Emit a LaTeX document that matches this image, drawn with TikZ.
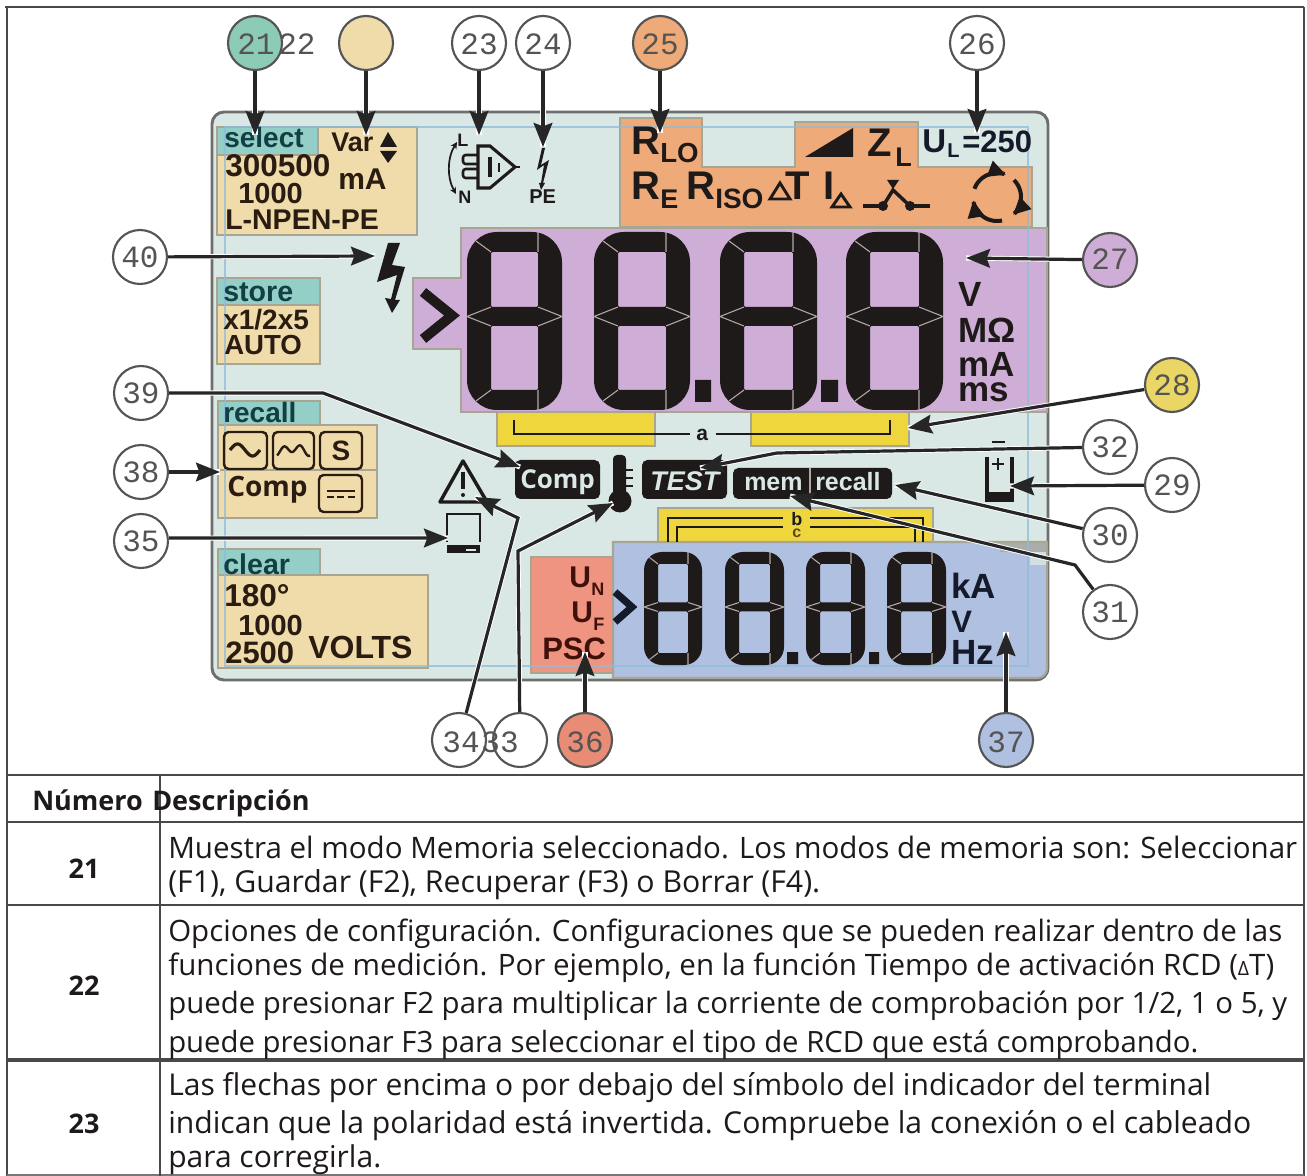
\documentclass[tikz,border=0pt]{standalone}
\usepackage{fontspec}
\usepackage{graphicx}
\setmainfont{Liberation Sans}
\newfontfamily\tablefont{Open Sans}
\newfontfamily\numfont{Liberation Mono}
\usetikzlibrary{arrows.meta}
\definecolor{lcdbody}{HTML}{D9E7E5}
\definecolor{lcdedge}{HTML}{6E6E6E}
\definecolor{zoneedge}{HTML}{A9A593}
\definecolor{teal}{HTML}{93CFC6}
\definecolor{ring21}{HTML}{8CCBB5}
\definecolor{ring28}{HTML}{EAD665}
\definecolor{ring36}{HTML}{E98C76}
\definecolor{tan}{HTML}{F0DCAA}
\definecolor{orangez}{HTML}{EEAA78}
\definecolor{purplez}{HTML}{CEAED6}
\definecolor{yellowz}{HTML}{EFD63C}
\definecolor{bluez}{HTML}{B0C0E0}
\definecolor{redz}{HTML}{EE9480}
\definecolor{ink}{HTML}{1E1A1A}
\definecolor{brownink}{HTML}{2A1C10}
\definecolor{tealink}{HTML}{123F44}
\definecolor{maroon}{HTML}{40100A}
\definecolor{navy}{HTML}{141A2A}
\definecolor{guideblue}{HTML}{8FBCD8}
\definecolor{segline}{HTML}{B5A8A8}
\definecolor{ringc}{HTML}{555555}
\definecolor{arrowc}{HTML}{262626}
\newcommand\pxfont[1]{\fontsize{\fpeval{#1*0.75}pt}{\fpeval{#1*0.9}pt}\selectfont}
% \tx[colour]{name}{x}{y}{px size}{text}
\newcommand\tx[6][ink]{\node[anchor=base west,inner sep=0pt,text=#1,font=\bfseries\pxfont{#5}] (#2) at (#3,#4) {#6};}
\newcommand\tbl[5]{\node[anchor=base west,inner sep=0pt,text=ink] (#1) at (#2,#3) {\resizebox{\fpeval{#4*0.75}pt}{!}{\tablefont\pxfont{27}#5}};}
\newcommand\tnum[3]{\node[anchor=base,inner sep=0pt,text=ink,font=\tablefont\bfseries\pxfont{27}] (#1) at (#2,#3) {#1};}
% \segdigit{x0}{x1}{y0}{y1}{tx}{ty}{ymid}{th}{r}
\newcommand\segdigit[9]{%
 \fill[ink,even odd rule] [rounded corners=#9*0.75pt] (#1,#3) rectangle (#2,#4)
   [rounded corners=1pt] ({#1+#5},{#3+#6}) rectangle ({#2-#5},{#7-#8/2})
   ({#1+#5},{#7+#8/2}) rectangle ({#2-#5},{#4-#6});
 \draw[segline,line width=0.8pt]
   ({#1+0.3*#9},{#3+0.3*#9}) -- ({#1+#5},{#3+#6})
   ({#2-#5},#3) -- ({#2-#5},{#3+#6})
   ({#1+0.3*#9},{#4-0.3*#9}) -- ({#1+#5},{#4-#6})
   ({#2-#5},#4) -- ({#2-#5},{#4-#6})
   ({#1+#5},{#7-#8/2}) -- (#1,#7) -- ({#1+#5},{#7+#8/2})
   ({#2-#5},{#7-#8/2}) -- (#2,#7) -- ({#2-#5},{#7+#8/2});
}
\tikzset{
 zone/.style={draw=zoneedge,line width=1.6pt},
 ring/.style={circle,draw=ringc,line width=1.6pt,minimum size=40.5pt,inner sep=0pt,fill=white},
 ringtext/.style={anchor=base,inner sep=0pt,text=ink!75,font=\numfont\pxfont{31}},
 arr/.style={draw=arrowc,line width=2.4pt,-{Stealth[length=18pt,width=14pt,inset=2.5pt]},
   preaction={draw=white,line width=3.8pt,arrows=-}},
 keybox/.style={draw=brownink,line width=1.8pt,rounded corners=3.5pt},
 tableline/.style={draw=ink!80,line width=1.4pt},
 badge/.style={fill=ink,rounded corners=4pt},
 rotarrow/.style={draw=ink,line width=3pt,-{Stealth[length=13pt,width=12pt,inset=0pt]},samples=20,smooth}
}
\begin{document}
\begin{tikzpicture}[x=0.75pt,y=-0.75pt]
\useasboundingbox (0,0) rectangle (1307,1176);
\fill[white] (0,0) rectangle (1307,1176);
% LCD body
\draw[fill=lcdbody,draw=lcdedge,line width=2.2pt,rounded corners=9pt] (212,112) rectangle (1048,680);
% left zones
\draw[zone,fill=tan] (217,127) rectangle (417,235);
\draw[zone,fill=teal] (217,127) rectangle (318,155);
\draw[zone,fill=tan] (217,305) rectangle (320,364);
\draw[zone,fill=teal] (217,278) rectangle (320,305);
\draw[zone,fill=tan] (218,425) rectangle (377,518);
\draw[zone,line width=0.8pt] (218,470) -- (377,470);
\draw[zone,fill=teal] (218,401) rectangle (320,425);
\draw[zone,fill=tan] (218,575) rectangle (428,668);
\draw[zone,fill=teal] (218,549) rectangle (320,575);
% orange zone
\draw[zone,fill=orangez] (620,118) -- (702,118) -- (702,167) -- (795,167) -- (795,122) -- (918,122) -- (918,167) -- (1032,167) -- (1032,227) -- (620,227) -- cycle;
% purple zone
\draw[zone,fill=purplez] (461,228) -- (1047,228) -- (1047,412) -- (461,412) -- (461,349) -- (413,349) -- (413,278) -- (461,278) -- cycle;
% yellow zones
\draw[zone,fill=yellowz] (497,412) rectangle (655,446);
\draw[zone,fill=yellowz] (751,412) rectangle (909,446);
\draw[zone,fill=yellowz] (658,508) rectangle (933,548);
% red and blue zones
\draw[zone,fill=redz] (531,557) rectangle (615,673);
\draw[zone,fill=bluez] (613,677) -- (613,542) -- (1047,542) [rounded corners=7pt] -- (1047,678) [sharp corners] -- (613,678) -- cycle;
\fill[zoneedge!70!bluez] (1000,543) rectangle (1046,552);
\fill[lcdbody!80!bluez] (1030,552) rectangle (1046,565);
% guide lines
\draw[guideblue,line width=1.1pt,opacity=0.75] (225,127) rectangle (1028,666);
% bracket a
\draw[ink,line width=1.8pt] (514,420) -- (514,434) -- (690,434);
\draw[ink,line width=1.8pt] (716,434) -- (890,434) -- (890,420);
\tx{la}{696}{441}{21}{a}
% brackets b, c
\draw[ink,line width=1.6pt] (668,542) -- (668,518) -- (783,518);
\draw[ink,line width=1.6pt] (677,542) -- (677,527) -- (783,527);
\draw[ink,line width=1.6pt] (810,518) -- (923,518) -- (923,542);
\draw[ink,line width=1.6pt] (810,527) -- (915,527) -- (915,542);
\tx{lb}{791}{526}{18}{b}
\tx[brownink!75!yellowz]{lc}{792}{538}{16}{c}
% upper left texts
\tx[tealink]{tselect}{224}{148}{28}{select}
\tx[brownink]{t300}{225}{177}{31.5}{300500}
\tx[brownink]{t1000a}{238}{204}{29}{1000}
\tx[brownink]{tlnpen}{225}{230}{28.5}{L-NPEN-PE}
\tx[brownink]{tvar}{331}{152}{27}{Var}
\tx[brownink]{tma}{338}{190}{30}{mA}
\fill[ink] (388,132) -- (397,147) -- (380,147) -- cycle;
\fill[ink] (388,163) -- (397,151) -- (380,151) -- cycle;
% store
\tx[tealink]{tstore}{223}{302}{28.6}{store}
\tx[brownink]{tx}{223}{330}{28}{x1/2x5}
\tx[brownink]{tauto}{224}{355}{27.6}{AUTO}
% recall
\tx[tealink]{trecall}{223}{423}{28}{recall}
\draw[keybox] (224,432) rectangle (267,469);
\draw[keybox] (273,432) rectangle (314,469);
\draw[keybox] (320,432) rectangle (362,469);
\draw[keybox] (319,475) rectangle (362,512);
\draw[brownink,line width=2.4pt,smooth,samples=30,domain=0:360] plot ({230+\x/360*30},{450-6*sin(\x)});
\draw[brownink,line width=1.8pt,smooth,samples=40,domain=0:360] plot ({277+\x/360*33},{451-4*sin(\x*2-60)+2*cos(\x)-1});
\node[anchor=base,inner sep=0pt,text=brownink,font=\bfseries\pxfont{28}] (ts) at (341,461) {S};
\node[anchor=base west,inner sep=0pt,text=brownink,font=\tablefont\bfseries\pxfont{28}] (tcomp) at (227,497) {Comp};
\draw[brownink,line width=1.8pt] (327,491) -- (355,491);
\draw[brownink,line width=1.8pt] (327,497) -- (334,497) (337,497) -- (344,497) (348,497) -- (355,497);
% clear
\tx[tealink]{tclear}{223}{575}{28.6}{clear}
\tx[brownink]{t180}{224}{607}{31.6}{180°}
\tx[brownink]{t1000b}{238}{635}{29}{1000}
\tx[brownink]{t2500}{225}{663}{31}{2500}
\tx[brownink]{tvolts}{308}{658}{32}{VOLTS}
% plug symbol
\tx{tplugl}{457}{147}{18}{L}
\tx{tplugn}{458}{204}{18}{N}
\tx{tpe}{529}{204}{20}{PE}
\draw[ink,line width=2.3pt] (478,146) -- (490,146) -- (515,167) -- (490,188) -- (478,188) -- cycle;
\draw[ink,line width=1.8pt] (515,167) -- (520,167);
\draw[ink,line width=1.9pt,rounded corners=2pt] (478,155) -- (463,155) -- (463,164) -- (478,164);
\draw[ink,line width=1.9pt,rounded corners=2pt] (478,169) -- (463,169) -- (463,178) -- (478,178);
\draw[ink,line width=2.4pt] (490,157) -- (490,177);
\draw[ink,line width=1.6pt] (499,163) -- (499,172);
\draw[ink,line width=1.3pt,{Stealth[length=5pt,width=5pt]}-{Stealth[length=5pt,width=5pt]}] (457,142) .. controls (447,158) and (447,178) .. (456,194);
\fill[ink] (542,148) -- (537,170) -- (544,165) -- (541,183) -- (539,183) -- (541,190) -- (545,183) -- (543,183) -- (549,160) -- (541,165) -- (545,148) -- cycle;
% orange zone labels
\tx{trlo}{631}{155}{40}{R}
\tx{trlos}{660}{163}{27.6}{LO}
\tx{tre}{631}{200}{40}{R}
\tx{tres}{660}{209}{27}{E}
\tx{triso}{686}{200}{40}{R}
\tx{trisos}{715}{209}{28}{ISO}
\draw[ink,line width=2.2pt] (770,199) -- (780,183) -- (790,199) -- cycle;
\tx{tdt}{785}{200}{40}{T}
\tx{tia}{823}{200}{40}{I}
\draw[ink,line width=2.2pt] (832,207) -- (841,194) -- (850,207) -- cycle;
\draw[ink,line width=2.4pt] (863,206) -- (883,206) (910,206) -- (930,206);
\fill[ink] (883,206) circle[radius=5] (910,206) circle[radius=5];
\draw[ink,line width=2.6pt] (883,206) -- (893,190) -- (910,206);
\fill[ink] (887,180) -- (899,180) -- (893,189) -- cycle;
\draw[rotarrow,domain=200:292] plot ({997+24*cos(\x)},{197+24*sin(\x)});
\draw[rotarrow,domain=-45:48] plot ({997+24*cos(\x)},{197+24*sin(\x)});
\draw[rotarrow,domain=78:172] plot ({997+24*cos(\x)},{197+24*sin(\x)});
\fill[ink] (805,157) -- (853,128) -- (853,157) -- cycle;
\tx{tz}{867}{157}{40}{Z}
\tx{tzs}{895}{167}{27}{L}
\tx[navy]{tu}{922}{153}{33}{U}
\tx[navy]{tus}{947}{158}{20}{L}
\tx[navy]{tul}{962}{153}{31}{=250}
% big bolt
\fill[ink] (388,243) -- (400,243) -- (392,265) -- (405,267) -- (395,300) -- (400,300) -- (392,313) -- (385,298) -- (391,299) -- (397,275) -- (377,282) -- cycle;
% main digits
\segdigit{467}{562}{232}{410}{24}{20}{316.5}{19}{30}
\segdigit{594}{690}{232}{410}{24}{20}{316.5}{19}{30}
\segdigit{720}{817}{232}{410}{24}{20}{316.5}{19}{30}
\segdigit{846}{943}{232}{410}{24}{20}{316.5}{19}{30}
\fill[ink] (695,380) rectangle (711,402) (821,380) rectangle (838,402);
\draw[ink,line width=7.5pt] (423,292) -- (452,315.5) -- (423,339);
\tx{tv}{958}{307}{35}{V}
\tx{tmo}{958}{343}{35}{MΩ}
\tx{tmamp}{958}{377}{35}{mA}
\tx{tms}{958}{402}{35}{ms}
% badges
\fill[badge] (515,460) rectangle (600,499);
\node[anchor=base west,inner sep=0pt,text=lcdbody,font=\tablefont\bfseries\pxfont{26}] (tbcomp) at (520,489) {Comp};
\fill[ink,rounded corners=3pt] (613,455) rectangle (626,495);
\fill[ink] (620,501) circle[radius=11.5];
\draw[ink,line width=1.6pt] (626,470) -- (633,470) (626,478) -- (633,478) (626,486) -- (633,486);
\fill[badge] (642,460) rectangle (727,499);
\node[anchor=base west,inner sep=0pt,text=lcdbody,font=\bfseries\itshape\pxfont{27}] (ttest) at (650,491) {TEST};
\fill[badge] (733,468) rectangle (892,499);
\draw[segline,line width=0.9pt] (810,468) -- (810,499);
\tx[lcdbody]{tmem}{744}{491}{25}{mem}
\tx[lcdbody]{trec}{815}{491}{25}{recall}
% warning triangle
\draw[ink,line width=2.6pt,line join=round] (463,461) -- (487,502) -- (440,502) -- cycle;
\draw[ink,line width=2.6pt] (463,472) -- (463,489);
\fill[ink] (463,495) circle[radius=2];
% computer
\draw[ink,line width=2pt] (447,542) -- (447,514) -- (480,514) -- (480,542);
\fill[ink] (447,545) rectangle (480,553);
\fill[lcdbody] (466,549) rectangle (476,551);
% battery
\draw[ink,line width=2pt] (992,442) -- (1005,442);
\draw[ink,line width=2pt] (992,464) -- (1004,464) (998,458) -- (998,470);
\draw[ink,line width=3.5pt] (987,457) -- (987,496) (1012,457) -- (1012,496);
\fill[ink] (985,492) rectangle (1014,502);
% lower panel
\tx[maroon]{tun}{569}{588}{30}{U}
\tx[maroon]{tuns}{591}{596}{18}{N}
\tx[maroon]{tuf}{571}{623}{30}{U}
\tx[maroon]{tufs}{593}{631}{18}{F}
\tx[maroon]{tpsc}{542}{659}{31}{PSC}
\draw[navy,line width=5.4pt] (615,592) -- (632,607) -- (615,622);
\segdigit{644}{702}{552}{665}{14}{12}{607}{9}{18}
\segdigit{725}{784}{552}{665}{14}{12}{607}{9}{18}
\segdigit{806}{865}{552}{665}{14}{12}{607}{9}{18}
\segdigit{887}{946}{552}{665}{14}{12}{607}{9}{18}
\fill[ink] (787,652) rectangle (798,664) (869,652) rectangle (879,664);
\tx[navy]{tka}{951}{599}{35}{kA}
\tx[navy]{tvv}{951}{633}{31}{V}
\tx[navy]{thz}{951}{664}{35}{Hz}
% rings
\node[ring,fill=ring21] (c21) at (255,43) {};
\node[ring,fill=tan] (c22) at (366,43) {};
\node[ring] (c23) at (479,43) {};
\node[ring] (c24) at (543,43) {};
\node[ring,fill=orangez] (c25) at (660,43) {};
\node[ring] (c26) at (977,43) {};
\node[ring,fill=purplez] (c27) at (1110,260) {};
\node[ring,fill=ring28] (c28) at (1172,385) {};
\node[ring] (c32) at (1110,447) {};
\node[ring] (c29) at (1172,485) {};
\node[ring] (c30) at (1110,535) {};
\node[ring] (c31) at (1110,612) {};
\node[ring] (c40) at (140,257) {};
\node[ring] (c39) at (141,393) {};
\node[ring] (c38) at (141,472) {};
\node[ring] (c35) at (141,541) {};
\node[ring] (c34) at (459,740) {};
\node[ring] (c33) at (520,740) {};
\node[ring,fill=ring36] (c36) at (585,740) {};
\node[ring,fill=bluez] (c37) at (1006,740) {};
\foreach \n/\x/\y in {21/256/55,22/297/55,23/479/55,24/543/55,25/660/55,26/977/55,27/1110/270,28/1172/396,32/1110/458,29/1172/496,30/1110/546,31/1110/623,40/140/268,39/141/404,38/141/483,35/141/552,34/461/752,33/500/752,36/585/752,37/1006/752}
  {\node[ringtext] (n\n) at (\x,\y) {\n};}
% arrow targets and bends
\coordinate (t21) at (255,135);
\coordinate (t22) at (366,135);
\coordinate (t23) at (479,135);
\coordinate (t24) at (543,147);
\coordinate (t25) at (660,133);
\coordinate (t26) at (977,133);
\coordinate (t27) at (966,258);
\coordinate (t28) at (908,428);
\coordinate (t29) at (1010,486);
\coordinate (b32) at (777,453);
\coordinate (t32) at (700,468);
\coordinate (t30) at (895,485);
\coordinate (b31) at (1075,565);
\coordinate (t31) at (790,496);
\coordinate (t40) at (375,256);
\coordinate (b39) at (323,393);
\coordinate (t39) at (520,467);
\coordinate (t38) at (220,472);
\coordinate (t35) at (448,538);
\coordinate (b34) at (518,518);
\coordinate (t34) at (475,497);
\coordinate (b33) at (518,551);
\coordinate (t33) at (613,503);
\coordinate (t36) at (585,652);
\coordinate (t37) at (1006,632);
\foreach \n in {21,22,23,24,25,26,27,28,29,30,36,37,38,40}
  {\draw[arr] (c\n) -- (t\n);}
\draw[arr] (c35.6) -- (t35);
\draw[arr] (c32) -- (b32) -- (t32);
\draw[arr] (c31) -- (b31) -- (t31);
\draw[arr] (c39) -- (b39) -- (t39);
\draw[arr] (c34) -- (b34) -- (t34);
\draw[arr] (c33) -- (b33) -- (t33);
% table rules
\draw[tableline] (5,7) -- (1304,7);
\draw[tableline] (7,7) -- (7,1176);
\draw[tableline] (1304,7) -- (1304,1176);
\draw[tableline] (7,775) -- (1304,775);
\draw[tableline] (7,822) -- (1304,822);
\draw[tableline] (7,905) -- (1304,905);
\draw[tableline,line width=2.4pt] (7,1060) -- (1304,1060);
\draw[tableline,draw=ink!60] (7,1175) -- (1304,1175);
\draw[tableline,line width=2pt] (160,775) -- (160,1176);
% table text
\node[anchor=base west,inner sep=0pt,text=ink,font=\tablefont\bfseries\pxfont{27}] (hnum) at (32,810) {Número};
\node[anchor=base west,inner sep=0pt,text=ink,font=\tablefont\bfseries\pxfont{27}] (hdesc) at (152,810) {Descripción};
\tnum{21}{84}{878}
\tnum{22}{84}{995}
\tnum{23}{84}{1133}
\tbl{d1a}{168}{858}{1129}{Muestra el modo Memoria seleccionado. Los modos de memoria son: Seleccionar}
\tbl{d1b}{168}{892}{652}{(F1), Guardar (F2), Recuperar (F3) o Borrar (F4).}
\tbl{d2a}{168}{941}{1114}{Opciones de configuración. Configuraciones que se pueden realizar dentro de las}
\tbl{d2b}{168}{975}{1106}{funciones de medición. Por ejemplo, en la función Tiempo de activación RCD ({\pxfont{18}Δ}T)}
\tbl{d2c}{168}{1013}{1119}{puede presionar F2 para multiplicar la corriente de comprobación por 1/2, 1 o 5, y}
\tbl{d2d}{168}{1052}{1030}{puede presionar F3 para seleccionar el tipo de RCD que está comprobando.}
\tbl{d3a}{168}{1095}{1043}{Las flechas por encima o por debajo del símbolo del indicador del terminal}
\tbl{d3b}{168}{1133}{1083}{indican que la polaridad está invertida. Compruebe la conexión o el cableado}
\tbl{d3c}{168}{1167}{213}{para corregirla.}
\end{tikzpicture}
\end{document}
